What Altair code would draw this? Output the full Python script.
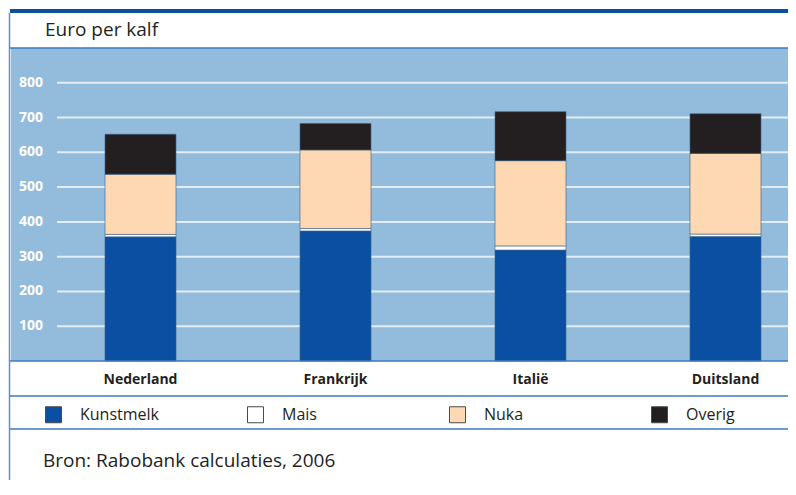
import altair as alt
import pandas as pd

# ---- data ----
countries = ["Nederland", "Frankrijk", "Italië", "Duitsland"]
series = ["Kunstmelk", "Mais", "Nuka", "Overig"]
kunstmelk = [357, 374, 319, 358]
mais = [7, 7, 12, 7]
nuka = [173, 226, 245, 232]
overig = [115, 76, 141, 114]
tick_values = [100, 200, 300, 400, 500, 600, 700, 800]
colors = ["#0b4fa2", "#ffffff", "#fdd8b2", "#231f20"]
title_text = "Euro per kalf"
source_text = "Bron: Rabobank calculaties, 2006"

values = [kunstmelk, mais, nuka, overig]
rows = []
for si, s in enumerate(series):
    for ci, c in enumerate(countries):
        rows.append({"country": c, "series": s, "idx": si, "value": values[si][ci]})
df = pd.DataFrame(rows)
df_c = pd.DataFrame({"country": countries})
df_t = pd.DataFrame({"v": tick_values})
one = pd.DataFrame({"a": [0]})

W, H = 777, 313
FONT = "Open Sans"
LINE = "#3d78c2"

xscale = alt.Scale(domain=countries, range=[32, 812], paddingInner=0.636, paddingOuter=0.318)
yscale = alt.Scale(domain=[0, 900], nice=False, zero=True)

grid = alt.Chart(df_t).mark_rule(color="#e2edf6", strokeWidth=2).encode(
    y=alt.Y("v:Q", scale=yscale, axis=None),
    x=alt.value(46), x2=alt.value(W),
)
ticklab = alt.Chart(df_t).mark_text(
    align="right", baseline="middle", color="white", font=FONT, fontSize=14, fontWeight="bold"
).encode(
    y=alt.Y("v:Q", scale=yscale, axis=None), x=alt.value(32), text=alt.Text("v:Q")
)
bars = alt.Chart(df).mark_bar(stroke="#3a5f88", strokeWidth=0.6).encode(
    x=alt.X("country:N", sort=countries, scale=xscale, axis=None),
    y=alt.Y("value:Q", stack="zero", scale=yscale, axis=None),
    fill=alt.Fill("series:N", scale=alt.Scale(domain=series, range=colors),
                  legend=alt.Legend(orient="none", legendX=34, legendY=358, direction="horizontal",
                                    columns=4, gridAlign="all", columnPadding=86, title=None,
                                    symbolType="square", symbolSize=256, symbolStrokeColor="#4a4a4a",
                                    symbolStrokeWidth=1, labelFont=FONT, labelFontSize=16,
                                    labelColor="#231f20", labelOffset=18, padding=0)),
    order=alt.Order("idx:Q"),
)
catlab = alt.Chart(df_c).mark_text(
    baseline="middle", color="#231f20", font=FONT, fontSize=14, fontWeight="bold"
).encode(
    x=alt.X("country:N", sort=countries, scale=xscale, axis=None),
    y=alt.value(332), text="country:N",
)

def hline(y, color=LINE, width=1.5, x0=-1):
    return alt.Chart(one).mark_rule(color=color, strokeWidth=width).encode(
        x=alt.value(x0), x2=alt.value(W), y=alt.value(y))

topbar = hline(-37, color="#0b4fa2", width=4)
l_top = hline(0)
l_bot = hline(H)
l_cat = hline(348)
l_leg = hline(381)
leftline = alt.Chart(one).mark_rule(color="#5b8fd0", strokeWidth=1.5).encode(
    x=alt.value(-1.5), y=alt.value(-35), y2=alt.value(440))

title = alt.Chart(one).mark_text(
    align="left", baseline="middle", font=FONT, fontSize=19, color="#231f20"
).encode(x=alt.value(34), y=alt.value(-18), text=alt.value(title_text))
source = alt.Chart(one).mark_text(
    align="left", baseline="middle", font=FONT, fontSize=19, color="#231f20"
).encode(x=alt.value(32), y=alt.value(413), text=alt.value(source_text))

chart = alt.layer(
    grid, ticklab, bars, catlab, topbar, l_top, l_bot, l_cat, l_leg, leftline, title, source
).properties(
    width=W, height=H,
    autosize=alt.AutoSizeParams(type="none"),
    padding={"left": 3, "top": 40, "right": 0, "bottom": 119},
    background="white",
).configure_view(fill="#93bbdb", stroke=None)

chart.save("out.html", embed_options={"renderer": "svg", "actions": False})
